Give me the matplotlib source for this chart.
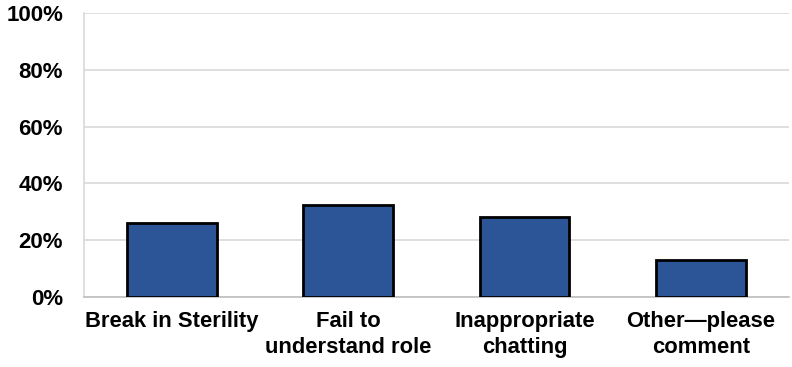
import matplotlib.pyplot as plt
from matplotlib.ticker import PercentFormatter

# Datos
categorias = ["Break in Sterility", "Fail to\nunderstand role",
              "Inappropriate\nchatting", "Other\u2014please\ncomment"]
valores = [26, 32.4, 28, 13]

plt.rcParams['font.family'] = ['Liberation Sans', 'DejaVu Sans']

fig = plt.figure(figsize=(7.92, 3.67), dpi=100)
ax = fig.add_axes([0.106, 0.191, 0.89, 0.773])

ax.bar(range(len(categorias)), valores, width=0.51, color='#2c5597',
       edgecolor='black', linewidth=2, zorder=3)

ax.set_ylim(0, 100)
ax.set_xlim(-0.5, len(categorias) - 0.5)
ax.set_yticks(range(0, 101, 20))
ax.yaxis.set_major_formatter(PercentFormatter(decimals=0))
ax.set_xticks(range(len(categorias)))
ax.set_xticklabels(categorias, fontsize=15.8, fontweight='bold', linespacing=1.3)
for lbl in ax.get_yticklabels():
    lbl.set_fontsize(16)
    lbl.set_fontweight('bold')
ax.tick_params(axis='both', length=0)
ax.tick_params(axis='x', pad=10)
ax.tick_params(axis='y', pad=15)

ax.grid(axis='y', color='#d9d9d9', linewidth=1.2, zorder=0)
for s in ['top', 'right']:
    ax.spines[s].set_visible(False)
ax.spines['left'].set_color('#d9d9d9')
ax.spines['bottom'].set_color('#bfbfbf')
ax.spines['left'].set_linewidth(1.2)
ax.spines['bottom'].set_linewidth(1.2)

plt.savefig('out.png', dpi=100)
